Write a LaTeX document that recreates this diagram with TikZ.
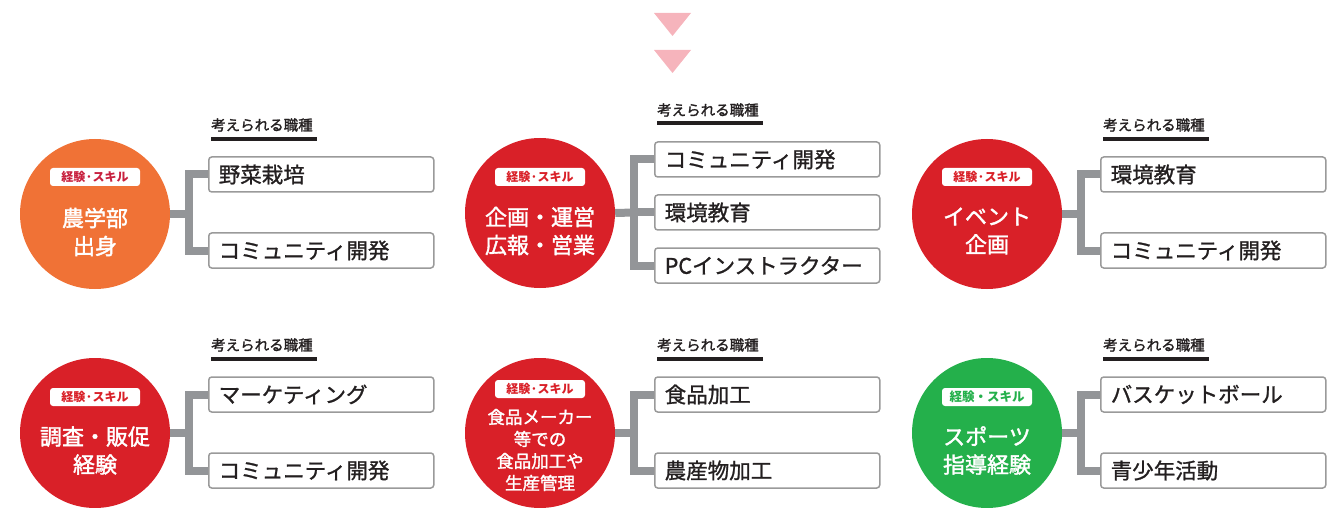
\documentclass[tikz,border=0pt]{standalone}
\usepackage{fontspec}
\setmainfont{Noto Sans CJK JP}
\newfontfamily\medfont{Noto Sans CJK JP}[FakeBold=1.1]
\newfontfamily\semfont{Noto Sans CJK JP}[FakeBold=1.6]
\definecolor{corange}{HTML}{F07236}
\definecolor{cred}{HTML}{D92028}
\definecolor{cgreen}{HTML}{24B04B}
\definecolor{cpinkred}{HTML}{C8203E}
\definecolor{cconn}{HTML}{939598}
\definecolor{cbox}{HTML}{9A9A9A}
\definecolor{cink}{HTML}{231F20}
\definecolor{ctri}{HTML}{F6B4BC}
\begin{document}
\begin{tikzpicture}[x=1pt,y=1pt,
  circ/.style={circle, minimum size=150pt, inner sep=0pt, draw=none},
  pill/.style={rectangle, rounded corners=3pt, fill=white, minimum width=90pt, minimum height=18pt, inner sep=0pt, font=\bfseries\fontsize{12}{14}\selectfont},
  ctext/.style={align=center, text=white, inner sep=0pt, font=\semfont\fontsize{22}{28}\selectfont},
  hdr/.style={anchor=west, inner sep=0pt, text=cink, font=\semfont\fontsize{14.5}{16}\selectfont},
  uline/.style={draw=none, fill=cink},
  job/.style={anchor=west, rectangle, draw=cbox, line width=1.5pt, rounded corners=3pt, fill=white, minimum width=225pt, minimum height=35pt, text width=205pt, inner xsep=10pt, inner ysep=0pt, align=left, text=cink, font=\medfont\fontsize{21.5}{24}\selectfont},
  conn/.style={draw=cconn, line width=8pt, line join=miter},
  tri/.style={fill=ctri, draw=none}]
\useasboundingbox (0,0) rectangle (1334,507);

% arrows
\fill[tri] (654,494) -- (691,494) -- (672.5,471) -- cycle;
\fill[tri] (654,457) -- (691,457) -- (672.5,434) -- cycle;

% ---------- Group A (top-left)
\node[circ, fill=corange] (cA) at (95,293) {};
\node[pill, text=cpinkred] (pA) at (95,330) {経験·スキル};
\node[ctext] (tA) at (95,275) {農学部\\出身};
\node[hdr] (hA) at (211,382) {考えられる職種};
\fill[uline] (211,366) rectangle (317,370);
\coordinate (jA) at (189,293);
\node[job] (bA1) at (208,332.5) {野菜栽培};
\node[job] (bA2) at (208,256.5) {コミュニティ開発};
\draw[conn] (cA.east) -- (jA);
\draw[conn] (bA1.west) -| (jA) |- (bA2.west);

% ---------- Group B (top-middle)
\node[circ, fill=cred] (cB) at (540,294) {};
\node[pill, text=cred] (pB) at (540,330) {経験·スキル};
\node[ctext] (tB) at (540,276) {企画・運営\\広報・営業};
\node[hdr] (hB) at (657,397) {考えられる職種};
\fill[uline] (657,382) rectangle (763,386);
\coordinate (jB) at (634,294.5);
\node[job] (bB1) at (654,347.5) {コミュニティ開発};
\node[job] (bB2) at (654,294.5) {環境教育};
\node[job] (bB3) at (654,241.5) {PCインストラクター};
\draw[conn] (cB.east) -- (jB);
\draw[conn] (bB1.west) -| (jB) |- (bB3.west);
\draw[conn] (jB) -- (bB2.west);

% ---------- Group C (top-right)
\node[circ, fill=cred] (cC) at (987,293) {};
\node[pill, text=cred] (pC) at (987,330) {経験·スキル};
\node[ctext] (tC) at (987,276) {イベント\\企画};
\node[hdr] (hC) at (1103,382) {考えられる職種};
\fill[uline] (1103,366) rectangle (1209,370);
\coordinate (jC) at (1081,293);
\node[job] (bC1) at (1100,332.5) {環境教育};
\node[job] (bC2) at (1100,256.5) {コミュニティ開発};
\draw[conn] (cC.east) -- (jC);
\draw[conn] (bC1.west) -| (jC) |- (bC2.west);

% ---------- Group D (bottom-left)
\node[circ, fill=cred] (cD) at (95,74) {};
\node[pill, text=cred] (pD) at (95,110) {経験·スキル};
\node[ctext] (tD) at (95,56.5) {調査・販促\\経験};
\node[hdr] (hD) at (211,162) {考えられる職種};
\fill[uline] (211,146) rectangle (317,150);
\coordinate (jD) at (189,74);
\node[job] (bD1) at (208,112.5) {マーケティング};
\node[job] (bD2) at (208,36.5) {コミュニティ開発};
\draw[conn] (cD.east) -- (jD);
\draw[conn] (bD1.west) -| (jD) |- (bD2.west);

% ---------- Group E (bottom-middle)
\node[circ, fill=cred] (cE) at (540,74) {};
\node[pill, text=cred] (pE) at (540,118) {経験·スキル};
\node[ctext, font=\semfont\fontsize{17.5}{22}\selectfont] (tE) at (540,57) {食品メーカー\\等での\\食品加工や\\生産管理};
\node[hdr] (hE) at (657,162) {考えられる職種};
\fill[uline] (657,146) rectangle (763,150);
\coordinate (jE) at (634,74);
\node[job] (bE1) at (654,112.5) {食品加工};
\node[job] (bE2) at (654,36.5) {農産物加工};
\draw[conn] (cE.east) -- (jE);
\draw[conn] (bE1.west) -| (jE) |- (bE2.west);

% ---------- Group F (bottom-right)
\node[circ, fill=cgreen] (cF) at (987,74) {};
\node[pill, text=cgreen, font=\bfseries\fontsize{12.5}{14}\selectfont] (pF) at (987,110) {経験・スキル};
\node[ctext] (tF) at (987,56.5) {スポーツ\\指導経験};
\node[hdr] (hF) at (1103,162) {考えられる職種};
\fill[uline] (1103,146) rectangle (1209,150);
\coordinate (jF) at (1081,74);
\node[job] (bF1) at (1100,112.5) {バスケットボール};
\node[job] (bF2) at (1100,36.5) {青少年活動};
\draw[conn] (cF.east) -- (jF);
\draw[conn] (bF1.west) -| (jF) |- (bF2.west);
\end{tikzpicture}
\end{document}
